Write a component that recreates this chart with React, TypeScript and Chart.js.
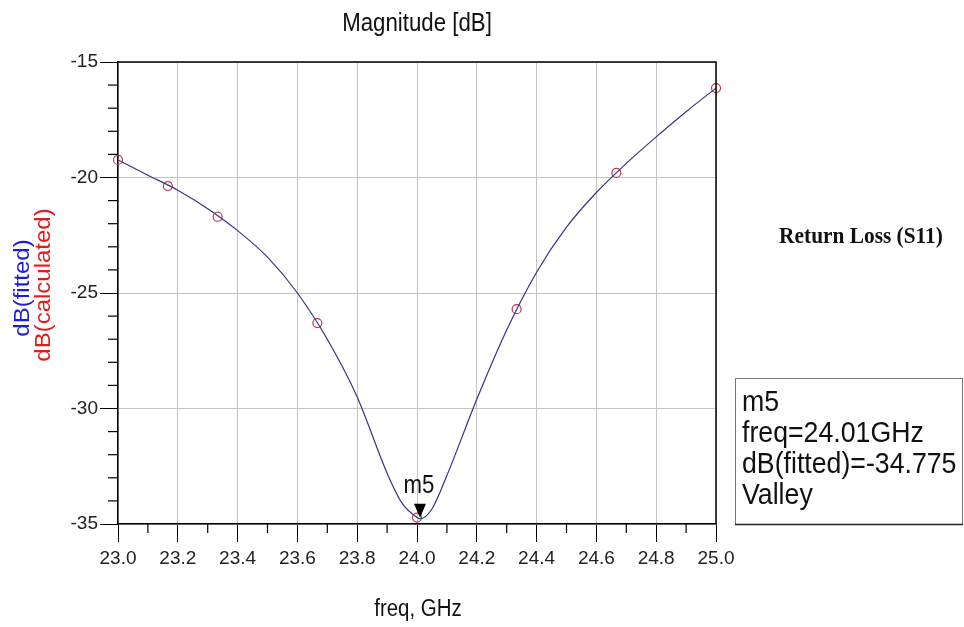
import React, { useEffect, useRef } from "react";
import { Chart, registerables } from "chart.js";

Chart.register(...registerables);

// ---- data ----
const fitFreq = [23.0, 23.1, 23.2, 23.3, 23.4, 23.5, 23.6, 23.7, 23.8, 23.9, 23.95, 24.0, 24.01, 24.05, 24.1, 24.2, 24.3, 24.4, 24.5, 24.6, 24.7, 24.8, 24.9, 25.0];
const fitDb = [-19.24, -19.9, -20.55, -21.35, -22.3, -23.45, -25.0, -27.0, -29.5, -32.8, -34.1, -34.72, -34.775, -34.35, -32.9, -29.6, -26.6, -24.1, -22.15, -20.65, -19.39, -18.24, -17.15, -16.13];
const calcFreq = [23.0, 23.1667, 23.3333, 23.6667, 24.0, 24.3333, 24.6667, 25.0];
const calcDb = [-19.24, -20.37, -21.7, -26.3, -34.72, -25.7, -19.8, -16.13];
const markerName = "m5";
const markerFreq = 24.01;
const markerDb = -34.775;
const markerType = "Valley";
const xMin = 23.0, xMax = 25.0, xStep = 0.2, xMinorStep = 0.1;
const yMin = -35, yMax = -15, yStep = 5, yMinorStep = 1;

const SANS = "'Liberation Sans', Arial, sans-serif";
const NARROW = "'Liberation Sans Narrow', 'Arial Narrow', 'Liberation Sans', Arial, sans-serif";
const SERIF = "'Liberation Serif', 'Times New Roman', serif";

function drawText(ctx: CanvasRenderingContext2D, s: string, x: number, y: number, font: string, color: string, align: CanvasTextAlign, baseline: CanvasTextBaseline, sx = 0.89, rot = 0) {
  ctx.save();
  ctx.translate(x, y);
  if (rot) {
    ctx.rotate(rot);
    ctx.scale(1, sx);
  } else {
    ctx.scale(sx, 1);
  }
  ctx.font = font;
  ctx.fillStyle = color;
  ctx.textAlign = align;
  ctx.textBaseline = baseline;
  ctx.fillText(s, 0, 0);
  ctx.restore();
}

const decorPlugin = {
  id: "decor",
  afterDraw(chart: any) {
    const ctx: CanvasRenderingContext2D = chart.ctx;
    const xs = chart.scales.x;
    const ys = chart.scales.y;
    const a = chart.chartArea;
    ctx.save();
    // frame: top and right
    ctx.strokeStyle = "#000";
    ctx.lineWidth = 1.5;
    ctx.beginPath();
    ctx.moveTo(a.left, a.top);
    ctx.lineTo(a.right, a.top);
    ctx.lineTo(a.right, a.bottom);
    ctx.stroke();
    // minor ticks
    ctx.lineWidth = 1.2;
    const nX = Math.round((xMax - xMin) / xMinorStep);
    for (let i = 1; i < nX; i += 2) {
      const px = xs.getPixelForValue(xMin + i * xMinorStep);
      ctx.beginPath();
      ctx.moveTo(px, a.bottom);
      ctx.lineTo(px, a.bottom + 9);
      ctx.stroke();
    }
    for (let v = yMin + yMinorStep; v < yMax; v += yMinorStep) {
      if (v % yStep === 0) continue;
      const py = ys.getPixelForValue(v);
      ctx.beginPath();
      ctx.moveTo(a.left - 10, py);
      ctx.lineTo(a.left, py);
      ctx.stroke();
    }
    // titles
    drawText(ctx, "Magnitude [dB]", 417, 31, `25px ${SANS}`, "#111", "center", "alphabetic");
    drawText(ctx, "freq, GHz", 418, 616, `23px ${SANS}`, "#111", "center", "alphabetic");
    drawText(ctx, "dB(fitted)", 23, 288, `24px ${SANS}`, "#1c1ce0", "center", "middle", 0.89, -Math.PI / 2);
    drawText(ctx, "dB(calculated)", 44, 285, `24px ${SANS}`, "#e01c1c", "center", "middle", 0.89, -Math.PI / 2);
    drawText(ctx, "Return Loss (S11)", 861, 243, `bold 24px ${SERIF}`, "#111", "center", "alphabetic");
    // marker
    const mx = xs.getPixelForValue(markerFreq);
    const my = ys.getPixelForValue(markerDb);
    ctx.fillStyle = "#000";
    ctx.beginPath();
    ctx.moveTo(mx - 6, my - 15);
    ctx.lineTo(mx + 6, my - 15);
    ctx.lineTo(mx, my - 1);
    ctx.closePath();
    ctx.fill();
    drawText(ctx, markerName, mx - 1, my - 26, `25px ${SANS}`, "#111", "center", "alphabetic");
    // marker box
    ctx.fillStyle = "#fff";
    ctx.fillRect(735.5, 378.5, 227, 146);
    ctx.strokeStyle = "#777";
    ctx.lineWidth = 1;
    ctx.strokeRect(735.5, 378.5, 227, 146);
    ctx.strokeStyle = "#222";
    ctx.lineWidth = 1.5;
    ctx.beginPath();
    ctx.moveTo(735, 524.5);
    ctx.lineTo(963, 524.5);
    ctx.stroke();
    const lines = [markerName, `freq=${markerFreq.toFixed(2)}GHz`, `dB(fitted)=${markerDb.toFixed(3)}`, markerType];
    const bases = [411, 442, 473, 504];
    lines.forEach((l, i) => drawText(ctx, l, 742, bases[i], `30px ${SANS}`, "#111", "left", "alphabetic"));
    ctx.restore();
  },
};

export default function App() {
  const ref = useRef<HTMLCanvasElement>(null);
  useEffect(() => {
    const canvas = ref.current!;
    const tickFont = { family: NARROW, size: 19 };
    const chart = new Chart(canvas, {
      type: "scatter",
      data: {
        datasets: [
          {
            label: "dB(fitted)",
            data: fitFreq.map((f, i) => ({ x: f, y: fitDb[i] })),
            showLine: true,
            borderColor: "#34348a",
            borderWidth: 1.2,
            pointRadius: 0,
            cubicInterpolationMode: "monotone",
            fill: false,
          },
          {
            label: "dB(calculated)",
            data: calcFreq.map((f, i) => ({ x: f, y: calcDb[i] })),
            showLine: false,
            pointRadius: 4.5,
            pointBorderColor: "#b83a52",
            pointBackgroundColor: "rgba(0,0,0,0)",
            pointBorderWidth: 1.2,
            clip: false,
          } as any,
        ],
      },
      options: {
        animation: false,
        responsive: false,
        devicePixelRatio: 1,
        layout: { padding: { top: 62, right: 248, left: 0, bottom: 0 } },
        plugins: { legend: { display: false }, tooltip: { enabled: false }, title: { display: false } },
        scales: {
          x: {
            type: "linear",
            min: xMin,
            max: xMax,
            ticks: { stepSize: xStep, callback: (v: any) => Number(v).toFixed(1), font: tickFont, color: "#222", padding: 5, maxRotation: 0 },
            grid: { color: "#c4c4c4", tickColor: "#000", tickLength: 18, lineWidth: 1 },
            border: { color: "#000", width: 1.5 },
            afterFit: (s: any) => { s.height = 103; },
          },
          y: {
            type: "linear",
            min: yMin,
            max: yMax,
            ticks: { stepSize: yStep, font: tickFont, color: "#222", padding: 2 },
            grid: { color: "#c4c4c4", tickColor: "#000", tickLength: 18, lineWidth: 1 },
            border: { color: "#000", width: 1.5 },
            afterFit: (s: any) => { s.width = 118; },
          },
        },
      } as any,
      plugins: [decorPlugin],
    });
    return () => chart.destroy();
  }, []);
  return (
    <div style={{ position: "fixed", left: 0, top: 0, width: 964, height: 627, background: "#fff" }}>
      <canvas ref={ref} width={964} height={627} style={{ display: "block" }} />
    </div>
  );
}
